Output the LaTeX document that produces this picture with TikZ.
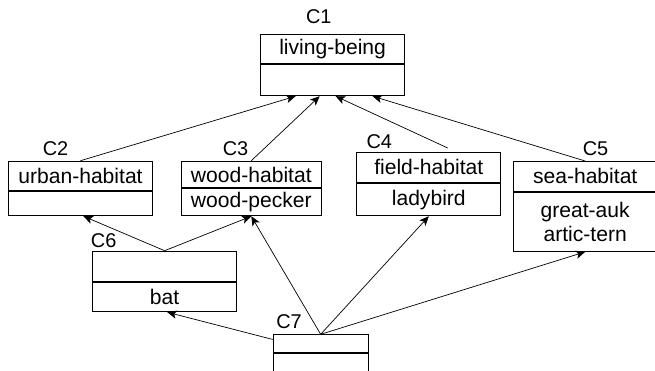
\documentclass[tikz,border=0pt]{standalone}
\usepackage{fontspec}
\setmainfont{Liberation Sans}
\usetikzlibrary{positioning,arrows.meta}
\tikzset{
  classpart/.style={draw,thick,fill=white,inner sep=0pt,align=center,font=\fontsize{18}{20.5}\selectfont},
  classlbl/.style={inner sep=0pt,font=\fontsize{17}{19}\selectfont},
  isa/.style={semithick,-{Stealth[length=8pt,width=7pt,inset=2pt]}}
}
\begin{document}
\begin{tikzpicture}[x=0.03cm,y=-0.03cm]
\useasboundingbox (0,0) rectangle (655,370);
\clip (0,0) rectangle (655,370);
%C1
\node[classpart,anchor=north west,minimum width=4.33cm,minimum height=0.88cm] (c1a) at (260,34) {living-being};
\node[classpart,below=0pt of c1a,minimum width=4.33cm,minimum height=0.93cm] (c1b) {};
\node[classlbl] (c1) at (318.8,16.7) {C1};
%C2
\node[classpart,anchor=north west,minimum width=4.32cm,minimum height=0.89cm] (c2a) at (8,160.7) {urban-habitat};
\node[classpart,below=0pt of c2a,minimum width=4.32cm,minimum height=0.72cm] (c2b) {};
\node[classlbl] (c2) at (55.5,148.3) {C2};
%C3
\node[classpart,anchor=north west,minimum width=4.19cm,minimum height=0.80cm] (c3a) at (181,160.7) {wood-habitat};
\node[classpart,below=0pt of c3a,minimum width=4.19cm,minimum height=0.81cm] (c3b) {wood-pecker};
\node[classlbl] (c3) at (235.5,148.3) {C3};
%C4
\node[classpart,anchor=north west,minimum width=4.32cm,minimum height=0.91cm] (c4a) at (356.3,151.7) {field-habitat};
\node[classpart,below=0pt of c4a,minimum width=4.32cm,minimum height=0.97cm] (c4b) {ladybird};
\node[classlbl] (c4) at (379.3,142) {C4};
%C5
\node[classpart,anchor=north west,minimum width=4.32cm,minimum height=0.89cm] (c5a) at (512.7,161) {sea-habitat};
\node[classpart,below=0pt of c5a,minimum width=4.32cm,minimum height=1.78cm] (c5b) {great-auk\\artic-tern};
\node[classlbl] (c5) at (595.5,148.7) {C5};
%C6
\node[classpart,anchor=north west,minimum width=4.33cm,minimum height=0.9cm] (c6a) at (92,250.7) {};
\node[classpart,below=0pt of c6a,minimum width=4.33cm,minimum height=0.89cm] (c6b) {bat};
\node[classlbl] (c6) at (103.7,241) {C6};
%C7
\node[classpart,anchor=north west,minimum width=2.85cm,minimum height=0.52cm] (c7a) at (272.7,334.3) {};
\node[classpart,below=0pt of c7a,minimum width=2.85cm,minimum height=0.9cm] (c7b) {};
\node[classlbl] (c7) at (289,322) {C7};
%up to C1
\draw[isa] (c2a.north) -- ([xshift=-1.11cm]c1b.south);
\draw[isa] (c3a.north) -- ([xshift=-0.39cm]c1b.south);
\draw[isa] ([xshift=0.57cm,yshift=0.11cm]c4a.north) -- ([xshift=0.09cm]c1b.south);
\draw[isa] (c5a.north) -- ([xshift=1.2cm]c1b.south);
%C6
\draw[isa] (c6a.north) -- ([xshift=0.09cm]c2b.south);
\draw[isa] (c6a.north) -- (c3b.south);
%C7
\draw[isa] ([yshift=0.12cm]c7a.west) -- ([xshift=0.08cm]c6b.south);
\draw[isa] (c7a.north) -- (c3b.south);
\draw[isa] (c7a.north) -- (c4b.south);
\draw[isa] (c7a.north) -- (c5b.south);
\end{tikzpicture}
\end{document}
